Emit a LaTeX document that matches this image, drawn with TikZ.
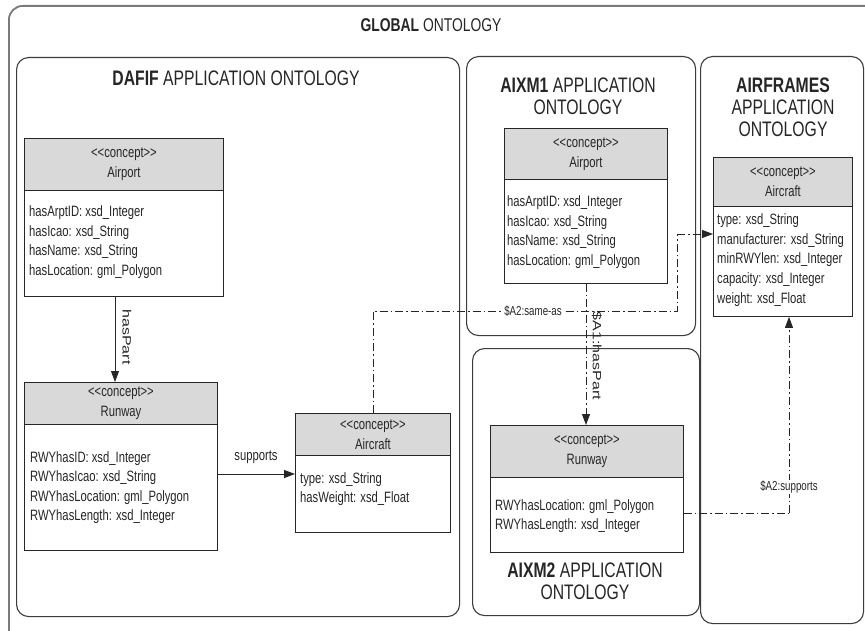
\documentclass[tikz,border=0pt]{standalone}
\usepackage{fontspec}
\setmainfont{Liberation Sans}[FakeStretch=0.75]
\newfontfamily\rotfont{Liberation Sans}
\usetikzlibrary{arrows.meta}
\definecolor{hdrgray}{HTML}{D9D9D9}
\definecolor{ink}{HTML}{262626}
\definecolor{frame}{HTML}{7A7A7A}
\newcommand\concepttag{<\kern0pt<concept>\kern0pt>}
\tikzset{
  container/.style={draw=ink!90, line width=1.1pt, rounded corners=12pt, inner sep=0, anchor=north west},
  classbox/.style={draw=ink, line width=0.9pt, fill=white, inner sep=0, anchor=north west},
  hdrbox/.style={classbox, fill=hdrgray},
  attr/.style={anchor=base west, inner sep=0, text=ink, font=\fontsize{15}{19}\selectfont},
  hdrtext/.style={align=center, inner sep=0, text=ink, font=\fontsize{15}{20}\selectfont},
  apptitle/.style={align=center, inner sep=0, text=ink, font=\fontsize{21}{22}\selectfont},
  lbl/.style={inner sep=1pt, text=ink, font=\fontsize{15}{17}\selectfont},
  smalllbl/.style={inner sep=1pt, fill=white, text=ink, font=\fontsize{13}{15}\selectfont},
  rotlbl/.style={inner sep=1pt, text=ink, font=\rotfont\fontsize{16}{18}\selectfont, rotate=-90, yscale=0.75},
  arr/.style={draw=ink, line width=0.9pt, -{Triangle[length=11pt,width=8pt]}},
  dashdot/.style={draw=ink, line width=0.9pt, dash pattern=on 8pt off 3pt on 1.5pt off 3pt},
}
\begin{document}
\begin{tikzpicture}[x=1pt, y=-1pt]
\useasboundingbox (0,0) rectangle (865,631);
\clip (0,0) rectangle (865,631);
\fill[white] (0,0) rectangle (865,631);

% global frame
\node[draw=frame, line width=1.8pt, rounded corners=14pt, inner sep=0, anchor=north west,
      minimum width=880pt, minimum height=640pt] (global) at (8,5) {};
\node[inner sep=0, text=ink, font=\fontsize{18.5}{20}\selectfont] (globaltitle) at (431,25) {\textbf{GLOBAL} ONTOLOGY};

% containers
\node[container, minimum width=443pt, minimum height=559pt] (dafif) at (16,57) {};
\node[container, minimum width=229pt, minimum height=279pt] (aixmone) at (466,56) {};
\node[container, minimum width=227pt, minimum height=267pt] (aixmtwo) at (472,348) {};
\node[container, minimum width=163pt, minimum height=567pt] (airframes) at (700,56) {};

\node[apptitle] (dafiftitle) at (236,78) {\textbf{DAFIF} APPLICATION ONTOLOGY};
\node[apptitle] (aixmonetitle) at (578,96) {\textbf{AIXM1} APPLICATION\\ONTOLOGY};
\node[apptitle] (airframestitle) at (783,107) {\textbf{AIRFRAMES}\\APPLICATION\\ONTOLOGY};
\node[apptitle] (aixmtwotitle) at (585,581) {\textbf{AIXM2} APPLICATION\\ONTOLOGY};

% DAFIF Airport
\node[classbox, minimum width=199pt, minimum height=158pt] (dafAirport) at (24,138) {};
\node[hdrbox, minimum width=199pt, minimum height=52pt] (dafAirportH) at (24,138) {};
\node[hdrtext] (dafAirportT) at (dafAirportH.center) {\concepttag\\Airport};
\node[attr] (dafAirport1) at (29,217) {hasArptID: xsd\_Integer};
\node[attr] (dafAirport2) at (29,236.5) {hasIcao: xsd\_String};
\node[attr] (dafAirport3) at (29,256) {hasName: xsd\_String};
\node[attr] (dafAirport4) at (29,275.5) {hasLocation: gml\_Polygon};

% DAFIF Runway
\node[classbox, minimum width=193pt, minimum height=168pt] (dafRunway) at (24,382) {};
\node[hdrbox, minimum width=193pt, minimum height=42pt] (dafRunwayH) at (24,382) {};
\node[hdrtext] (dafRunwayT) at (dafRunwayH.center) {\concepttag\\Runway};
\node[attr] (dafRunway1) at (30,462) {RWYhasID: xsd\_Integer};
\node[attr] (dafRunway2) at (30,481.5) {RWYhasIcao: xsd\_String};
\node[attr] (dafRunway3) at (30,501) {RWYhasLocation: gml\_Polygon};
\node[attr] (dafRunway4) at (30,520.5) {RWYhasLength: xsd\_Integer};

% DAFIF Aircraft
\node[classbox, minimum width=155pt, minimum height=119pt] (dafAircraft) at (295,413) {};
\node[hdrbox, minimum width=155pt, minimum height=42pt] (dafAircraftH) at (295,413) {};
\node[hdrtext] (dafAircraftT) at (dafAircraftH.center) {\concepttag\\Aircraft};
\node[attr] (dafAircraft1) at (300,483) {type: xsd\_String};
\node[attr] (dafAircraft2) at (300,502) {hasWeight: xsd\_Float};

% AIXM1 Airport
\node[classbox, minimum width=163pt, minimum height=155pt] (aixAirport) at (504,128) {};
\node[hdrbox, minimum width=163pt, minimum height=51pt] (aixAirportH) at (504,128) {};
\node[hdrtext] (aixAirportT) at (aixAirportH.center) {\concepttag\\Airport};
\node[attr] (aixAirport1) at (507,207) {hasArptID: xsd\_Integer};
\node[attr] (aixAirport2) at (507,226.5) {hasIcao: xsd\_String};
\node[attr] (aixAirport3) at (507,246) {hasName: xsd\_String};
\node[attr] (aixAirport4) at (507,265.5) {hasLocation: gml\_Polygon};

% AIXM2 Runway
\node[classbox, minimum width=193pt, minimum height=127pt] (aixRunway) at (490,425) {};
\node[hdrbox, minimum width=193pt, minimum height=52pt] (aixRunwayH) at (490,425) {};
\node[hdrtext] (aixRunwayT) at (aixRunwayH.center) {\concepttag\\Runway};
\node[attr] (aixRunway1) at (495,510) {RWYhasLocation: gml\_Polygon};
\node[attr] (aixRunway2) at (495,529.5) {RWYhasLength: xsd\_Integer};

% AIRFRAMES Aircraft
\node[classbox, minimum width=139pt, minimum height=159pt] (afAircraft) at (713,157) {};
\node[hdrbox, minimum width=139pt, minimum height=49pt] (afAircraftH) at (713,157) {};
\node[hdrtext] (afAircraftT) at (afAircraftH.center) {\concepttag\\Aircraft};
\node[attr] (afAircraft1) at (717,225) {type: xsd\_String};
\node[attr] (afAircraft2) at (717,244.5) {manufacturer: xsd\_String};
\node[attr] (afAircraft3) at (717,264) {minRWYlen: xsd\_Integer};
\node[attr] (afAircraft4) at (717,283.5) {capacity: xsd\_Integer};
\node[attr] (afAircraft5) at (717,303) {weight: xsd\_Float};

% hasPart (DAFIF)
\coordinate (hp0) at ([xshift=91pt]dafAirport.south west);
\draw[arr] (hp0) -- (hp0 |- dafRunway.north);
\node[rotlbl] (hasPartLbl) at (127,337) {hasPart};

% supports (DAFIF)
\coordinate (sp0) at ([yshift=-92pt]dafRunway.north east);
\draw[arr] (sp0) -- (sp0 -| dafAircraft.west);
\node[lbl] (supportsLbl) at (256,457) {supports};

% $A2:same-as
\coordinate (sa0) at ([xshift=78pt]dafAircraft.north west);
\coordinate (sa1) at (373,311);
\coordinate (sa2) at (677,311);
\coordinate (sa3) at (677,234);
\draw[dashdot] (sa0) -- (sa1) -- (sa2) -- (sa3);
\draw[dashdot, -{Triangle[length=11pt,width=8pt]}] (sa3) -- (sa3 -| afAircraft.west);
\node[smalllbl] (sameasLbl) at (533,311) {\$A2:same-as};

% $A1:hasPart
\coordinate (ah0) at ([xshift=82pt]aixAirport.south west);
\draw[dashdot, -{Triangle[length=11pt,width=8pt]}] (ah0) -- (ah0 |- aixRunway.north);
\node[rotlbl] (aHasPartLbl) at (597,356) {\$A1:hasPart};

% $A2:supports
\coordinate (as0) at ([yshift=-88pt]aixRunway.north east);
\coordinate (as1) at (789,513);
\draw[dashdot] (as0) -- (as1);
\draw[dashdot, -{Triangle[length=11pt,width=8pt]}] (as1) -- (as1 |- afAircraft.south);
\node[smalllbl] (aSupportsLbl) at (789,487) {\$A2:supports};
\end{tikzpicture}
\end{document}
